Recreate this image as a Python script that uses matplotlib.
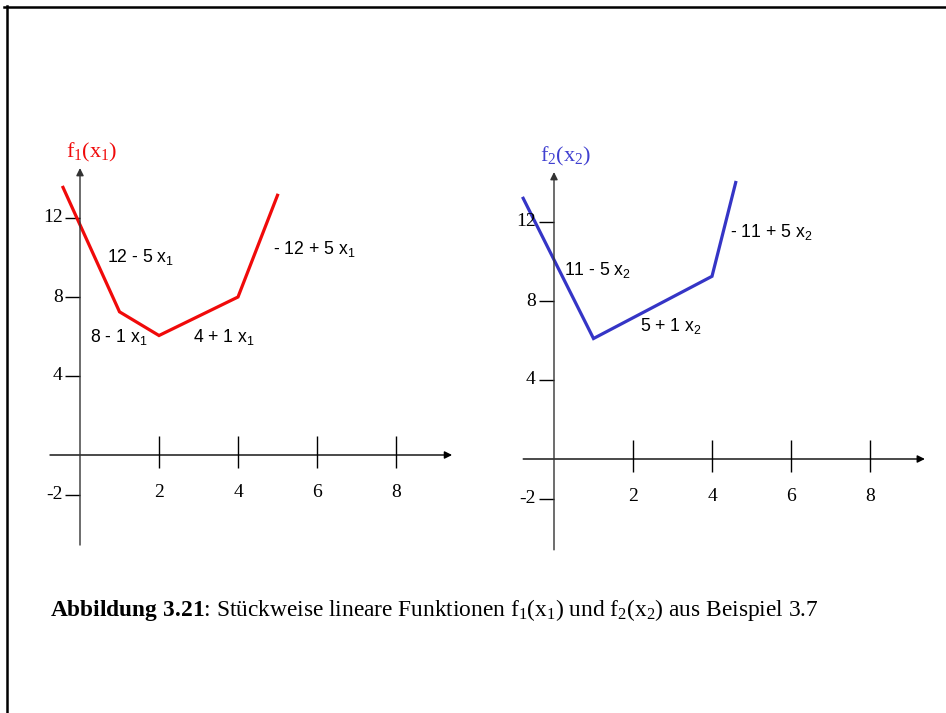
import matplotlib
matplotlib.use('Agg')
import matplotlib.pyplot as plt
from matplotlib.lines import Line2D

plt.rcParams['mathtext.fontset'] = 'custom'
plt.rcParams['mathtext.rm'] = 'Liberation Serif'
plt.rcParams['mathtext.bf'] = 'Liberation Serif:bold'
plt.rcParams['mathtext.default'] = 'regular'
plt.rcParams['axes.unicode_minus'] = False

# ---- data ----
x1 = [-0.43, 1.0, 2.0, 4.0, 5.0]
f1 = [13.55, 7.25, 6.05, 8.0, 13.15]
x2 = [-0.78, 1.0, 4.0, 4.6]
f2 = [13.2, 6.1, 9.25, 14.0]

xticks = [2, 4, 6, 8]
xtick_labels = ['2', '4', '6', '8']
yticks = [12, 8, 4, -2]
ytick_labels = ['12', '8', '4', '-2']

seg1_labels = ['12 - 5 x$_1$', '8 - 1 x$_1$', '4 + 1 x$_1$', '- 12 + 5 x$_1$']
seg2_labels = ['11 - 5 x$_2$', '5 + 1 x$_2$', '- 11 + 5 x$_2$']
title1 = 'f$_1$(x$_1$)'
title2 = 'f$_2$(x$_2$)'
caption_bold = r'$\mathbf{Abbildung\;3.21}$'
caption_rest = ': Stückweise lineare Funktionen f$_1$(x$_1$) und f$_2$(x$_2$) aus Beispiel 3.7'

# ---- layout / style ----
W, H = 946, 713
fig = plt.figure(figsize=(W / 100, H / 100), dpi=100)

RED = '#f00a0a'
BLUE = '#3535c6'
SERIF = 'Liberation Serif'
SANS = 'Liberation Sans'


def make_axes(px_left, px_right, px_top, px_bot, x0, y0, sx=39.5, sy=19.75):
    ax = fig.add_axes([px_left / W, 1 - px_bot / H, (px_right - px_left) / W, (px_bot - px_top) / H])
    ax.set_xlim((px_left - x0) / sx, (px_right - x0) / sx)
    ax.set_ylim((y0 - px_bot) / sy, (y0 - px_top) / sy)
    ax.axis('off')
    return ax


def draw_frame(ax, xmin, xmax, ymin, ymax, ylab_x):
    # x axis
    ax.annotate('', xy=(xmax, 0), xytext=(xmin, 0),
                arrowprops=dict(arrowstyle='-|>', lw=1.0, color='black',
                                mutation_scale=11, shrinkA=0, shrinkB=0))
    # y axis
    ax.annotate('', xy=(0, ymax), xytext=(0, ymin),
                arrowprops=dict(arrowstyle='-|>', lw=1.0, color='#333333',
                                mutation_scale=11, shrinkA=0, shrinkB=0))
    ax.vlines(xticks, -0.65, 0.95, color='black', lw=1.0)
    for t, lab in zip(xticks, xtick_labels):
        ax.text(t, -1.9, lab, ha='center', va='center', fontsize=14, family=SERIF)
    ax.hlines(yticks, -0.38, 0, color='black', lw=1.0)
    for t, lab in zip(yticks, ytick_labels):
        ax.text(ylab_x, t, lab, ha='right', va='center', fontsize=14, family=SERIF)


# left panel
ax1 = make_axes(40, 470, 130, 560, 80, 455)
draw_frame(ax1, -0.76, 9.42, -4.56, 14.53, -0.44)
ax1.plot(x1, f1, color=RED, lw=2.3, solid_joinstyle='miter')
pos1 = [(0.68, 9.77), (0.25, 5.72), (2.86, 5.72), (4.89, 10.18)]
for (px, py), lab in zip(pos1, seg1_labels):
    ax1.text(px, py, lab, ha='left', va='baseline', fontsize=12.7, family=SANS)
ax1.text(-0.36, 15.04, title1, ha='left', va='baseline', fontsize=16, family=SERIF, color=RED)

# right panel
ax2 = make_axes(510, 940, 130, 560, 554, 459)
draw_frame(ax2, -0.78, 9.39, -4.6, 14.53, -0.46)
ax2.plot(x2, f2, color=BLUE, lw=2.3, solid_joinstyle='miter')
pos2 = [(0.25, 9.32), (2.18, 6.48), (4.46, 11.24)]
for (px, py), lab in zip(pos2, seg2_labels):
    ax2.text(px, py, lab, ha='left', va='baseline', fontsize=12.7, family=SANS)
ax2.text(-0.36, 15.04, title2, ha='left', va='baseline', fontsize=16, family=SERIF, color='#4040d0')

# caption
fig.text(50 / W, 1 - 616 / H, caption_bold + caption_rest, ha='left', va='baseline',
         fontsize=16.8, family=SERIF)

# page frame (top and left rules)
fig.add_artist(Line2D([4 / W, 1.0], [1 - 7 / H, 1 - 7 / H], color='black', lw=1.8))
fig.add_artist(Line2D([7 / W, 7 / W], [0.0, 1 - 6 / H], color='black', lw=1.8))

fig.savefig('out.png', dpi=100)
